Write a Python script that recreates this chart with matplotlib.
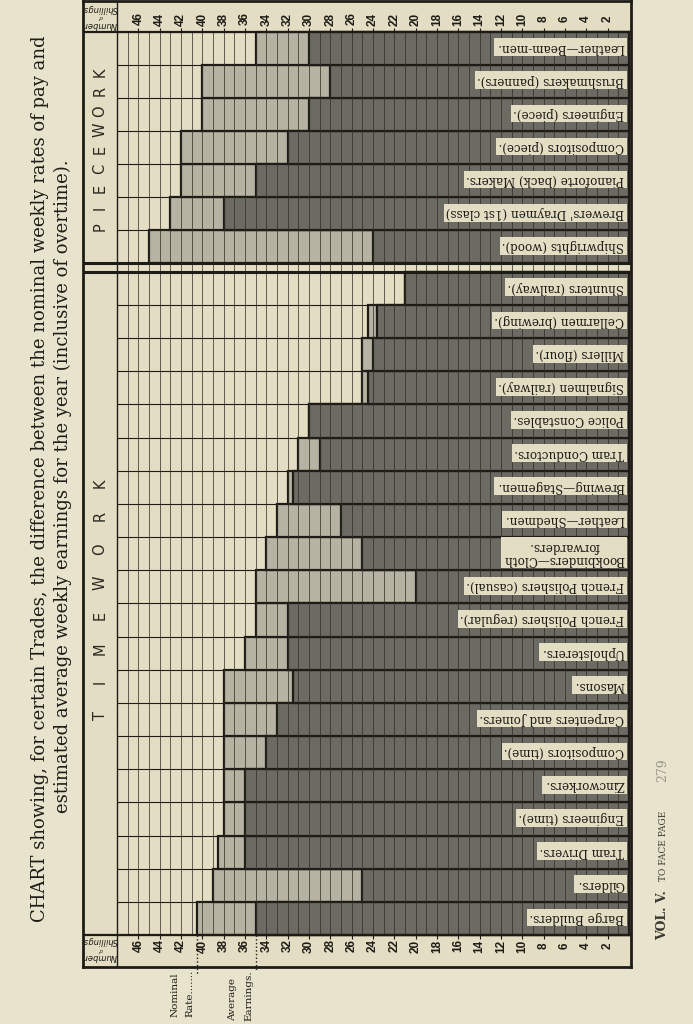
import matplotlib.pyplot as plt

# values in shillings, listed from the bottom row upward
time_trades = ['Barge Builders.', 'Gilders.', 'Tram Drivers.', 'Engineers (time).', 'Zincworkers.',
               'Compositors (time).', 'Carpenters and Joiners.', 'Masons.', 'Upholsterers.',
               'French Polishers (regular).', 'French Polishers (casual).', 'Bookbinders—Cloth\nforwarders.',
               'Leather—Shedmen.', 'Brewing—Stagemen.', 'Tram Conductors.', 'Police Constables.',
               'Signalmen (railway).', 'Millers (flour).', 'Cellarmen (brewing).', 'Shunters (railway).']
time_nominal = [40.5, 39, 38.5, 38, 38, 38, 38, 38, 36, 35, 35, 34, 33, 32, 31, 30, 25, 25, 24.5, 21]
time_earnings = [35, 25, 36, 36, 36, 34, 33, 31.5, 32, 32, 20, 25, 27, 31.5, 29, 30, 24.5, 24, 23.6, 21]

piece_trades = ["Shipwrights (wood).", "Brewers' Draymen (1st class)", 'Pianoforte (back) Makers.',
                'Compositors (piece).', 'Engineers (piece).', 'Brushmakers (panners).', 'Leather—Beam-men.']
piece_nominal = [45, 43, 42, 42, 40, 40, 35]
piece_earnings = [24, 38, 35, 32, 30, 28, 30]

ticks = list(range(2, 47, 2))

paper = '#e8e3cc'
cell = '#e3ddc4'
light = '#b6b3a3'
dark = '#6b6a63'
ink = '#1e1c16'

W, H = 693, 1024
fx = lambda x: x / W
fy = lambda y: 1 - y / H

fig = plt.figure(figsize=(6.93, 10.24), dpi=100)
fig.patch.set_facecolor(paper)
ax = fig.add_axes([fx(83), fy(967), 548 / W, 966 / H])
ax.set_facecolor(cell)
ax.set_xlim(51.2, -0.19)
ax.set_ylim(967, 1)
ax.set_xticks([])
ax.set_yticks([])
for s in ax.spines.values():
    s.set_linewidth(2)
    s.set_color(ink)

# row layout (pixel-like y units)
piece_top, piece_bot = 31.7, 263.3
time_top, time_bot = 271.7, 935
ph = (piece_bot - piece_top) / len(piece_trades)
th = (time_bot - time_top) / len(time_trades)
piece_y = [piece_bot - (i + 0.5) * ph for i in range(len(piece_trades))]
time_y = [time_bot - (i + 0.5) * th for i in range(len(time_trades))]

# row separators in the empty area
for k in range(len(piece_trades) + 1):
    ax.hlines(piece_top + k * ph, 0, 48, color=ink, lw=0.8, zorder=1)
for k in range(len(time_trades) + 1):
    ax.hlines(time_top + k * th, 0, 48, color=ink, lw=0.8, zorder=1)

# bars
for ys, hh, nom, ear in [(piece_y, ph, piece_nominal, piece_earnings),
                          (time_y, th, time_nominal, time_earnings)]:
    ax.barh(ys, nom, height=hh, color=light, edgecolor=ink, linewidth=1.6, zorder=2)
    ax.barh(ys, ear, height=hh, color=dark, edgecolor=ink, linewidth=1.6, zorder=2.5)

# grid of shillings
ax.vlines(range(1, 48), piece_top, time_bot, color='#2e2c24', lw=0.6, alpha=0.85, zorder=3)
ax.vlines(48, 1, 967, color=ink, lw=1.0, zorder=3)

# strips and section separator
ax.hlines([piece_top, time_bot], -0.2, 51.2, color=ink, lw=1.6, zorder=4)
ax.hlines([piece_bot, time_top], -0.2, 51.2, color=ink, lw=2.2, zorder=4)

for v in ticks:
    ax.text(v, 946, str(v), rotation=90, ha='center', va='center', fontsize=8.5,
            family='Liberation Sans', weight='bold', color=ink, zorder=5)
    ax.text(v, 19, str(v), rotation=90, ha='center', va='center', fontsize=8.5,
            family='Liberation Sans', weight='bold', color=ink, zorder=5)
    ax.vlines(v, time_bot, time_bot + 4, color=ink, lw=0.8, zorder=5)
    ax.vlines(v, piece_top - 4, piece_top, color=ink, lw=0.8, zorder=5)

for yb, yt in [(941, 957), (8, 25)]:
    ax.text(49.6, yb, 'Shillings', rotation=180, ha='center', va='center', fontsize=6,
            style='italic', color=ink)
    ax.text(49.6, yt, 'Number', rotation=180, ha='center', va='center', fontsize=6,
            style='italic', color=ink)
    ax.text(49.6, (yb + yt) / 2, 'of', rotation=180, ha='center', va='center', fontsize=3.5,
            style='italic', color=ink)

# section names
for word, y0, y1 in [('TIMEWORK', 715, 483), ('PIECEWORK', 227, 72)]:
    n = len(word)
    for k, ch in enumerate(word):
        ax.text(49.6, y0 + (y1 - y0) * k / (n - 1), ch, rotation=90, ha='center', va='center',
                fontsize=10.5, family='DejaVu Sans', color='#2a2820')

# trade labels
for ys, names in [(piece_y, piece_trades), (time_y, time_trades)]:
    for y, name in zip(ys, names):
        ax.text(0.45, y - 1, name, rotation=180, ha='right', va='center', fontsize=8.6,
                family='DejaVu Serif', multialignment='center', color=ink, zorder=6,
                linespacing=1.0,
                bbox=dict(boxstyle='square,pad=0.2', fc=cell, ec='none'))

# legend leaders
ax.plot([time_nominal[0]] * 2, [time_bot, 975], ls=':', color=ink, lw=1, clip_on=False)
ax.plot([time_earnings[0]] * 2, [time_bot, 970], ls=':', color=ink, lw=1, clip_on=False)
fig.text(fx(175), fy(1017), 'Nominal', rotation=90, ha='center', va='bottom', fontsize=7.5,
         family='DejaVu Serif', color=ink)
fig.text(fx(190), fy(1017), 'Rate.......', rotation=90, ha='center', va='bottom', fontsize=7.5,
         family='DejaVu Serif', color=ink)
fig.text(fx(233), fy(1021), 'Average', rotation=90, ha='center', va='bottom', fontsize=7.5,
         family='DejaVu Serif', color=ink)
fig.text(fx(249), fy(1021), 'Earnings.', rotation=90, ha='center', va='bottom', fontsize=7.5,
         family='DejaVu Serif', color=ink)

# title
fig.text(fx(40), fy(479), 'CHART showing, for certain Trades, the difference between the nominal weekly rates of pay and',
         rotation=90, ha='center', va='center', fontsize=13, family='DejaVu Serif', color=ink)
fig.text(fx(63), fy(486), 'estimated average weekly earnings for the year (inclusive of overtime).',
         rotation=90, ha='center', va='center', fontsize=13, family='DejaVu Serif', color=ink)

fig.text(fx(663), fy(915), 'VOL. V.', rotation=90, ha='center', va='center', fontsize=9,
         family='DejaVu Serif', weight='bold', color='#3a3830')
fig.text(fx(663), fy(881), 'TO FACE PAGE', rotation=90, ha='center', va='bottom', fontsize=6.5,
         family='DejaVu Serif', color='#3a3830')
fig.text(fx(663), fy(782), '279', rotation=90, ha='center', va='bottom', fontsize=9,
         family='DejaVu Serif', color='#9a968a')

fig.savefig('out.png', dpi=100, facecolor=paper)
